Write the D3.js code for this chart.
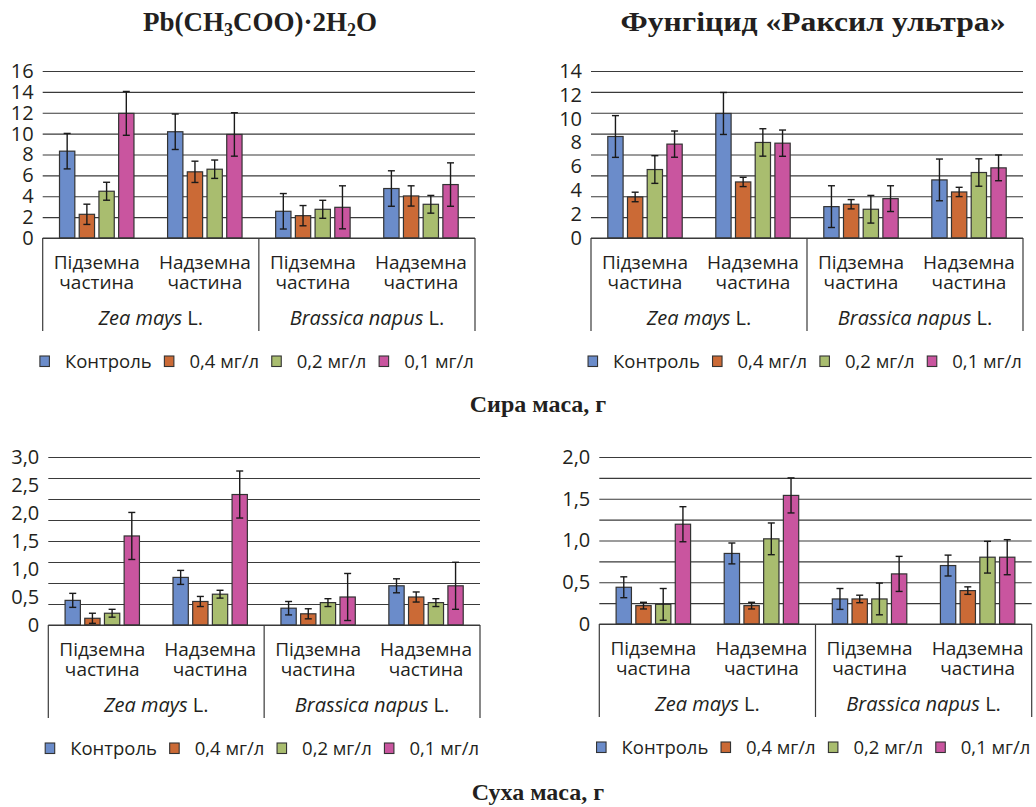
<!DOCTYPE html>
<html><head><meta charset="utf-8">
<script src="https://cdn.jsdelivr.net/npm/d3@7"></script>
<style>body{margin:0;background:#fff} svg{display:block}</style>
</head><body>
<svg id="c" width="1036" height="807"></svg>
<script>
// ---------- data ----------
const categories = [["Підземна","частина"],["Надземна","частина"],["Підземна","частина"],["Надземна","частина"]];
const species = [["Zea mays"," L."],["Brassica napus"," L."]];
const series = ["Контроль","0,4 мг/л","0,2 мг/л","0,1 мг/л"];

// rows = series (Контроль, 0,4, 0,2, 0,1); columns = categories
const freshPbValues = [[8.32,10.18,2.56,4.74],[2.27,6.34,2.14,4.03],[4.48,6.59,2.75,3.23],[11.94,9.92,2.94,5.12]];
const freshPbErrors = [[1.7,1.7,1.7,1.7],[0.97,1.02,0.97,0.97],[0.86,0.88,0.86,0.85],[2.1,2.08,2.06,2.08]];
const freshPbTicks = ["0","2","4","6","8","10","12","14","16"];

const freshFungValues = [[8.51,10.44,2.63,4.87],[3.44,4.70,2.83,3.86],[5.74,8.01,2.41,5.49],[7.87,7.95,3.30,5.88]];
const freshFungErrors = [[1.75,1.76,1.75,1.75],[0.4,0.39,0.39,0.39],[1.16,1.15,1.16,1.15],[1.1,1.1,1.08,1.08]];
const freshFungTicks = ["0","2","4","6","8","10","12","14"];

const dryPbValues = [[0.44,0.85,0.30,0.70],[0.12,0.42,0.20,0.50],[0.21,0.55,0.40,0.40],[1.59,2.33,0.50,0.70]];
const dryPbErrors = [[0.125,0.125,0.12,0.125],[0.09,0.09,0.09,0.09],[0.07,0.07,0.07,0.07],[0.42,0.42,0.42,0.42]];
const dryPbTicks = ["0","0,5","1,0","1,5","2,0","2,5","3,0"];

const dryFungValues = [[0.44,0.845,0.30,0.70],[0.22,0.22,0.30,0.40],[0.235,1.02,0.30,0.80],[1.195,1.54,0.60,0.80]];
const dryFungErrors = [[0.125,0.125,0.125,0.125],[0.04,0.04,0.045,0.045],[0.19,0.19,0.19,0.19],[0.21,0.21,0.21,0.21]];
const dryFungTicks = ["0","0,5","1,0","1,5","2,0"];

const titles = ["Сира маса, г","Суха маса, г"];
const panelTitle2 = "Фунгіцид «Раксил ультра»";
// "Pb(CH3COO)·2H2O" in pieces: [text, isSubscript]
const panelTitle1 = [["Pb(CH",0],["3",1],["COO)·2H",0],["2",1],["O",0]];

// ---------- styles ----------
const colors = ["#6b8cca","#cb6a36","#a9bd6f","#c9559f"];
const SANS = "'Open Sans', 'Noto Sans', sans-serif";
const SERIF = "'Liberation Serif', 'DejaVu Serif', serif";
const INK = "#231f20";

const svg = d3.select("#c");

const panels = [
  {values: freshPbValues, errors: freshPbErrors, ticks: freshPbTicks, left: 42.7, right: 475, top: 71, zero: 238},
  {values: freshFungValues, errors: freshFungErrors, ticks: freshFungTicks, left: 591, right: 1023, top: 71, zero: 238},
  {values: dryPbValues, errors: dryPbErrors, ticks: dryPbTicks, left: 48.3, right: 480, top: 457, zero: 625},
  {values: dryFungValues, errors: dryFungErrors, ticks: dryFungTicks, left: 599.3, right: 1031.7, top: 457, zero: 624}
];

const num = s => +s.replace(",", ".");

panels.forEach(p => {
  const g = svg.append("g");
  const tickVals = p.ticks.map(num);
  const max = d3.max(tickVals);
  const y = d3.scaleLinear().domain([0, max]).range([p.zero, p.top]);
  const width = p.right - p.left;

  // gridlines (8 intervals)
  const gridVals = d3.range(9).map(i => max * i / 8);
  const grid = g.append("g").attr("transform", `translate(${p.left},0)`)
    .call(d3.axisLeft(y).tickValues(gridVals).tickSize(-width).tickFormat(""));
  grid.select(".domain").remove();
  grid.selectAll("line").attr("stroke", "#3a3a3a").attr("stroke-width", 1.1);

  // y labels
  const yAx = g.append("g").attr("transform", `translate(${p.left - 6},0)`)
    .call(d3.axisLeft(y).tickValues(tickVals).tickSize(0).tickFormat((d, i) => p.ticks[i]));
  yAx.select(".domain").remove();
  yAx.selectAll("text").attr("font-family", SANS).attr("font-size", 20).attr("fill", INK).attr("dx", 0);

  // x scales
  const x0 = d3.scaleBand().domain(d3.range(categories.length)).range([p.left, p.right])
    .paddingInner(0.311).paddingOuter(0.1555);
  const x1 = d3.scaleBand().domain(d3.range(series.length)).range([0, x0.bandwidth()]).paddingInner(0.223);
  const xs = d3.scaleBand().domain(d3.range(species.length)).range([p.left, p.right]);
  const xc = d3.scaleBand().domain(d3.range(categories.length)).range([p.left, p.right]);

  // bars
  series.forEach((s, si) => {
    const sg = g.append("g");
    p.values[si].forEach((v, ci) => {
      const bx = x0(ci) + x1(si);
      sg.append("rect").attr("x", bx).attr("y", y(v)).attr("width", x1.bandwidth())
        .attr("height", y(0) - y(v)).attr("fill", colors[si]).attr("stroke", "#333").attr("stroke-width", 1.2);
    });
  });
  // error bars
  series.forEach((s, si) => {
    p.values[si].forEach((v, ci) => {
      const e = p.errors[si][ci];
      const cx = x0(ci) + x1(si) + x1.bandwidth() / 2;
      const eg = g.append("g").attr("stroke", "#1a1a1a").attr("stroke-width", 1.4);
      eg.append("line").attr("x1", cx).attr("x2", cx).attr("y1", y(v + e)).attr("y2", y(v - e));
      [v + e, v - e].forEach(t => eg.append("line").attr("x1", cx - 3.5).attr("x2", cx + 3.5).attr("y1", y(t)).attr("y2", y(t)));
    });
  });

  // category box
  const box = g.append("g").attr("stroke", "#3a3a3a").attr("stroke-width", 1.2);
  box.append("line").attr("x1", p.left).attr("x2", p.right).attr("y1", y(0)).attr("y2", y(0));
  [p.left, xs(1), p.right].forEach(xx => box.append("line").attr("x1", xx).attr("x2", xx).attr("y1", y(0)).attr("y2", y(0) + 93));

  // category labels
  categories.forEach((c, ci) => {
    const t = g.append("text").attr("x", xc(ci) + xc.bandwidth() / 2).attr("text-anchor", "middle")
      .attr("font-family", SANS).attr("font-size", 19).attr("fill", INK);
    t.append("tspan").attr("x", xc(ci) + xc.bandwidth() / 2).attr("y", y(0) + 31).text(c[0]);
    t.append("tspan").attr("x", xc(ci) + xc.bandwidth() / 2).attr("y", y(0) + 51).text(c[1]);
  });
  species.forEach((sp, i) => {
    const t = g.append("text").attr("x", xs(i) + xs.bandwidth() / 2).attr("y", y(0) + 87).attr("text-anchor", "middle")
      .attr("font-family", SANS).attr("font-size", 20).attr("fill", INK);
    t.append("tspan").attr("font-style", "italic").text(sp[0]);
    t.append("tspan").text(sp[1]);
  });

  // legend
  const lg = g.append("g");
  let cursor = 0;
  const textOff = 25, gap = 12.7;
  series.forEach((s, si) => {
    const it = lg.append("g").attr("transform", `translate(${cursor},0)`);
    it.append("rect").attr("x", 0).attr("y", -5).attr("width", 9.5).attr("height", 10.5)
      .attr("fill", colors[si]).attr("stroke", "#333").attr("stroke-width", 1.1);
    const tx = it.append("text").attr("x", textOff).attr("y", 6.5).attr("font-family", SANS)
      .attr("font-size", 18.5).attr("fill", INK).text(s);
    cursor += textOff + tx.node().getComputedTextLength() + gap;
  });
  const lw = cursor - gap;
  lg.attr("transform", `translate(${(p.left + p.right) / 2 - lw / 2 - 2},${y(0) + 123})`);
});

// panel titles
const t1 = svg.append("text").attr("x", 260).attr("y", 31).attr("text-anchor", "middle")
  .attr("font-family", SERIF).attr("font-weight", "bold").attr("font-size", 27).attr("fill", INK);
let lowered = false;
panelTitle1.forEach(([s, sub]) => {
  const ts = t1.append("tspan").text(s);
  if (sub) { ts.attr("font-size", 18).attr("dy", lowered ? 0 : 5); lowered = true; }
  else { ts.attr("dy", lowered ? -5 : 0); lowered = false; }
});
svg.append("text").attr("x", 813).attr("y", 31).attr("text-anchor", "middle")
  .attr("font-family", SERIF).attr("font-weight", "bold").attr("font-size", 27).attr("fill", INK)
  .attr("textLength", 385).attr("lengthAdjust", "spacingAndGlyphs")
  .text(panelTitle2);

svg.append("text").attr("x", 538).attr("y", 412).attr("text-anchor", "middle")
  .attr("font-family", SERIF).attr("font-weight", "bold").attr("font-size", 24).attr("fill", INK).text(titles[0]);
svg.append("text").attr("x", 538).attr("y", 800).attr("text-anchor", "middle")
  .attr("font-family", SERIF).attr("font-weight", "bold").attr("font-size", 24).attr("fill", INK).text(titles[1]);
</script>
</body></html>
